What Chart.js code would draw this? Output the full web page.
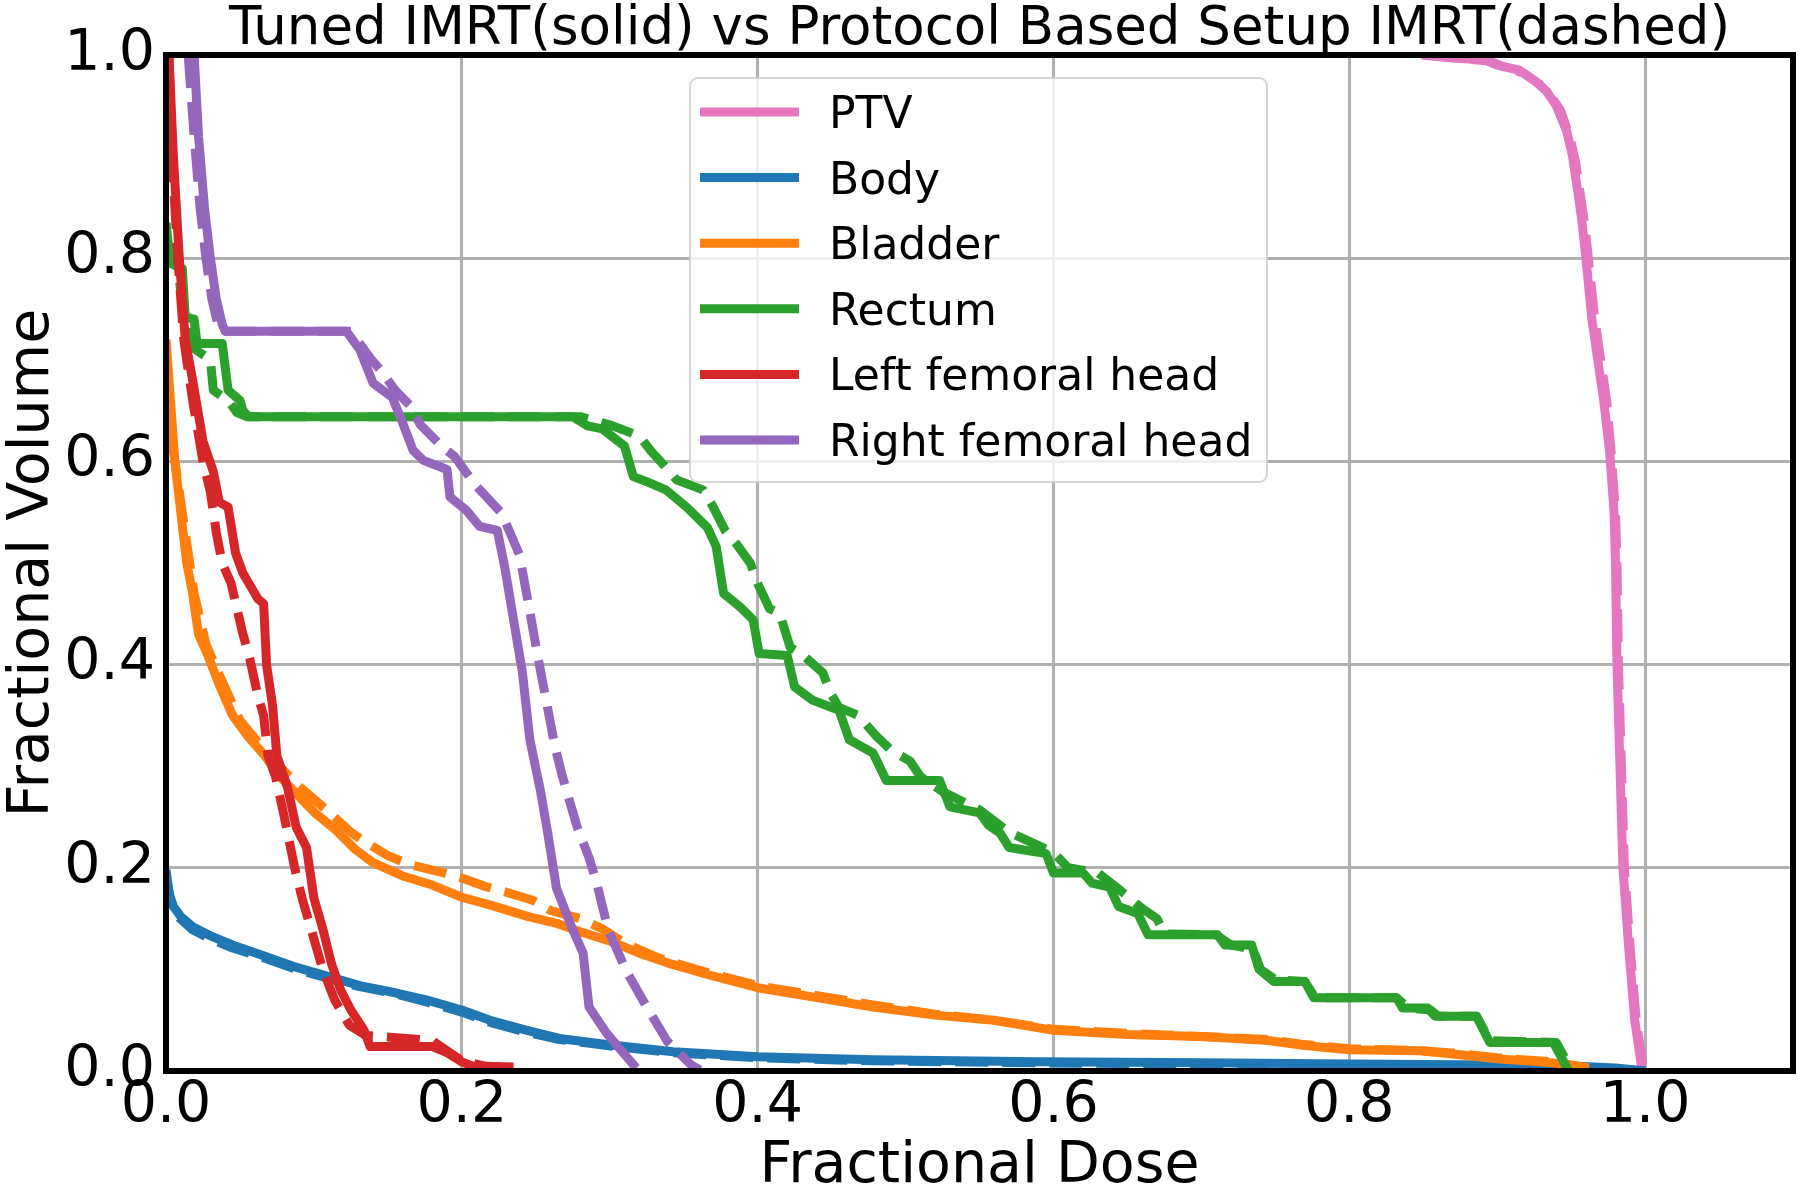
<!DOCTYPE html>
<html>
<head>
<meta charset="utf-8">
<script src="https://cdn.jsdelivr.net/npm/chart.js@4.4.0/dist/chart.umd.min.js"></script>
<style>
  html, body { margin: 0; padding: 0; background: #fff; }
  #wrap { width: 1800px; height: 1193px; }
</style>
</head>
<body>
<div id="wrap"><canvas id="dvhChart" width="1800" height="1193"></canvas></div>
<script>
// structure names and colours (legend order)
var structures = ['PTV', 'Body', 'Bladder', 'Rectum', 'Left femoral head', 'Right femoral head'];
var colors = ['#e377c2', '#1f77b4', '#ff7f0e', '#2ca02c', '#d62728', '#9467bd'];

// axis ticks
var xTicks = [0.0, 0.2, 0.4, 0.6, 0.8, 1.0];
var yTicks = [0.0, 0.2, 0.4, 0.6, 0.8, 1.0];

// [fractional dose, fractional volume]
// Tuned IMRT (solid)
var ptvSolid = [[0.849, 1.0], [0.87, 0.997], [0.892, 0.995], [0.9, 0.99], [0.915, 0.985], [0.925, 0.975], [0.933, 0.965], [0.94, 0.95], [0.947, 0.925], [0.951, 0.9], [0.954, 0.87], [0.957, 0.84], [0.96, 0.8], [0.964, 0.74], [0.968, 0.7], [0.972, 0.66], [0.976, 0.61], [0.979, 0.55], [0.98, 0.5], [0.981, 0.4], [0.983, 0.3], [0.985, 0.2], [0.989, 0.12], [0.993, 0.05], [0.998, 0.0]];
var bodySolid = [[0, 0.198], [0.002, 0.175], [0.005, 0.162], [0.01, 0.152], [0.018, 0.142], [0.03, 0.133], [0.045, 0.124], [0.065, 0.114], [0.086, 0.103], [0.11, 0.093], [0.131, 0.084], [0.155, 0.077], [0.176, 0.07], [0.2, 0.06], [0.221, 0.049], [0.244, 0.04], [0.266, 0.032], [0.298, 0.026], [0.343, 0.019], [0.4, 0.014], [0.478, 0.011], [0.59, 0.009], [0.7, 0.008], [0.8, 0.007], [0.9, 0.006], [0.95, 0.005], [0.98, 0.003], [1.0, 0.0]];
var bladderSolid = [[0.0, 0.72], [0.003, 0.66], [0.006, 0.6], [0.01, 0.55], [0.014, 0.5], [0.018, 0.47], [0.022, 0.43], [0.028, 0.41], [0.036, 0.38], [0.045, 0.35], [0.055, 0.33], [0.067, 0.31], [0.077, 0.29], [0.09, 0.27], [0.1, 0.255], [0.115, 0.237], [0.128, 0.218], [0.14, 0.205], [0.16, 0.192], [0.18, 0.183], [0.2, 0.171], [0.22, 0.163], [0.245, 0.152], [0.265, 0.145], [0.28, 0.137], [0.3, 0.128], [0.32, 0.116], [0.34, 0.106], [0.366, 0.095], [0.4, 0.082], [0.437, 0.073], [0.478, 0.063], [0.52, 0.055], [0.56, 0.05], [0.6, 0.04], [0.65, 0.036], [0.7, 0.034], [0.745, 0.03], [0.77, 0.025], [0.8, 0.021], [0.848, 0.02], [0.875, 0.016], [0.9, 0.012], [0.938, 0.008], [0.957, 0.003]];
var rectumSolid = [[0, 0.835], [0.003, 0.795], [0.011, 0.79], [0.013, 0.742], [0.019, 0.74], [0.021, 0.716], [0.038, 0.716], [0.042, 0.67], [0.05, 0.66], [0.052, 0.65], [0.056, 0.644], [0.275, 0.644], [0.285, 0.635], [0.295, 0.632], [0.31, 0.615], [0.316, 0.585], [0.325, 0.58], [0.338, 0.572], [0.352, 0.555], [0.366, 0.535], [0.372, 0.516], [0.377, 0.47], [0.388, 0.457], [0.397, 0.444], [0.401, 0.411], [0.42, 0.409], [0.425, 0.378], [0.437, 0.365], [0.455, 0.355], [0.462, 0.326], [0.478, 0.313], [0.487, 0.286], [0.523, 0.286], [0.53, 0.26], [0.55, 0.254], [0.556, 0.242], [0.564, 0.234], [0.57, 0.22], [0.595, 0.214], [0.6, 0.195], [0.62, 0.195], [0.626, 0.185], [0.638, 0.181], [0.644, 0.162], [0.657, 0.155], [0.664, 0.134], [0.711, 0.134], [0.716, 0.124], [0.734, 0.124], [0.739, 0.1], [0.749, 0.088], [0.77, 0.088], [0.776, 0.072], [0.832, 0.072], [0.836, 0.062], [0.853, 0.062], [0.858, 0.054], [0.886, 0.054], [0.895, 0.028], [0.938, 0.028], [0.948, 0.001]];
var leftFemSolid = [[0.002, 1.0], [0.005, 0.9], [0.009, 0.8], [0.013, 0.72], [0.018, 0.68], [0.025, 0.62], [0.032, 0.59], [0.036, 0.56], [0.042, 0.555], [0.047, 0.51], [0.052, 0.49], [0.056, 0.48], [0.062, 0.465], [0.066, 0.46], [0.068, 0.4], [0.072, 0.36], [0.075, 0.31], [0.082, 0.28], [0.088, 0.24], [0.095, 0.22], [0.1, 0.17], [0.106, 0.14], [0.112, 0.105], [0.118, 0.08], [0.125, 0.06], [0.134, 0.04], [0.138, 0.024], [0.18, 0.024], [0.19, 0.018], [0.2, 0.009], [0.207, 0.005], [0.235, 0.004]];
var rightFemSolid = [[0.019, 1.0], [0.022, 0.92], [0.026, 0.85], [0.03, 0.8], [0.034, 0.76], [0.038, 0.735], [0.04, 0.728], [0.122, 0.728], [0.131, 0.71], [0.14, 0.677], [0.153, 0.663], [0.16, 0.638], [0.167, 0.611], [0.174, 0.601], [0.19, 0.592], [0.192, 0.565], [0.203, 0.552], [0.212, 0.536], [0.224, 0.532], [0.229, 0.496], [0.235, 0.444], [0.241, 0.392], [0.246, 0.326], [0.253, 0.277], [0.258, 0.235], [0.264, 0.18], [0.275, 0.139], [0.282, 0.116], [0.286, 0.063], [0.298, 0.037], [0.309, 0.018], [0.318, 0.003]];

// Protocol Based Setup IMRT (dashed)
var ptvDashed = [[0.851, 1.0], [0.872, 0.997], [0.895, 0.994], [0.905, 0.988], [0.918, 0.982], [0.928, 0.972], [0.936, 0.96], [0.943, 0.945], [0.949, 0.92], [0.953, 0.895], [0.956, 0.865], [0.959, 0.835], [0.962, 0.795], [0.966, 0.74], [0.97, 0.7], [0.974, 0.66], [0.977, 0.61], [0.98, 0.55], [0.981, 0.5], [0.982, 0.4], [0.984, 0.3], [0.986, 0.2], [0.99, 0.12], [0.994, 0.05], [0.999, 0.0]];
var bodyDashed = [[0, 0.195], [0.003, 0.168], [0.008, 0.152], [0.018, 0.139], [0.03, 0.13], [0.045, 0.121], [0.065, 0.112], [0.086, 0.101], [0.11, 0.091], [0.131, 0.083], [0.155, 0.076], [0.176, 0.068], [0.2, 0.058], [0.221, 0.047], [0.244, 0.038], [0.266, 0.031], [0.298, 0.025], [0.343, 0.018], [0.4, 0.013], [0.478, 0.01], [0.59, 0.008], [0.7, 0.007], [0.8, 0.006], [0.9, 0.005], [0.95, 0.004], [0.98, 0.002], [1.0, 0.0]];
var bladderDashed = [[0.0, 0.71], [0.004, 0.62], [0.01, 0.56], [0.014, 0.52], [0.019, 0.47], [0.027, 0.42], [0.036, 0.39], [0.05, 0.345], [0.07, 0.31], [0.09, 0.28], [0.11, 0.255], [0.125, 0.235], [0.135, 0.225], [0.15, 0.212], [0.165, 0.203], [0.185, 0.196], [0.2, 0.19], [0.215, 0.182], [0.23, 0.176], [0.248, 0.168], [0.26, 0.158], [0.28, 0.15], [0.295, 0.14], [0.31, 0.126], [0.33, 0.113], [0.34, 0.108], [0.366, 0.097], [0.4, 0.084], [0.437, 0.075], [0.478, 0.065], [0.52, 0.056], [0.56, 0.05], [0.6, 0.041], [0.65, 0.037], [0.7, 0.034], [0.745, 0.031], [0.77, 0.026], [0.8, 0.022], [0.848, 0.02], [0.875, 0.017], [0.9, 0.013], [0.938, 0.009], [0.962, 0.003]];
var rectumDashed = [[0, 0.82], [0.004, 0.8], [0.008, 0.79], [0.012, 0.745], [0.016, 0.73], [0.02, 0.71], [0.03, 0.7], [0.032, 0.67], [0.042, 0.66], [0.048, 0.648], [0.055, 0.644], [0.28, 0.644], [0.3, 0.636], [0.32, 0.625], [0.328, 0.61], [0.338, 0.594], [0.345, 0.582], [0.363, 0.572], [0.37, 0.555], [0.378, 0.532], [0.385, 0.52], [0.395, 0.5], [0.4, 0.48], [0.408, 0.455], [0.415, 0.45], [0.422, 0.417], [0.43, 0.41], [0.444, 0.392], [0.45, 0.37], [0.455, 0.358], [0.468, 0.35], [0.48, 0.33], [0.49, 0.316], [0.503, 0.305], [0.51, 0.29], [0.525, 0.275], [0.55, 0.257], [0.57, 0.235], [0.6, 0.215], [0.61, 0.2], [0.63, 0.195], [0.645, 0.178], [0.66, 0.16], [0.67, 0.15], [0.675, 0.135], [0.71, 0.134], [0.72, 0.124], [0.735, 0.12], [0.74, 0.1], [0.75, 0.09], [0.77, 0.088], [0.777, 0.072], [0.832, 0.072], [0.84, 0.062], [0.855, 0.06], [0.86, 0.054], [0.886, 0.054], [0.895, 0.03], [0.94, 0.028], [0.95, 0.001]];
var leftFemDashed = [[0.002, 1.0], [0.004, 0.9], [0.008, 0.8], [0.012, 0.72], [0.018, 0.66], [0.025, 0.6], [0.03, 0.57], [0.034, 0.53], [0.038, 0.5], [0.044, 0.48], [0.048, 0.455], [0.052, 0.43], [0.056, 0.41], [0.062, 0.37], [0.066, 0.35], [0.069, 0.31], [0.074, 0.29], [0.08, 0.25], [0.087, 0.2], [0.092, 0.17], [0.098, 0.14], [0.106, 0.1], [0.114, 0.07], [0.124, 0.045], [0.135, 0.035], [0.18, 0.03], [0.19, 0.02], [0.2, 0.01], [0.215, 0.005], [0.23, 0.003]];
var rightFemDashed = [[0.015, 1.0], [0.019, 0.92], [0.023, 0.85], [0.027, 0.8], [0.031, 0.76], [0.035, 0.735], [0.037, 0.728], [0.125, 0.728], [0.139, 0.7], [0.145, 0.69], [0.155, 0.67], [0.165, 0.655], [0.172, 0.636], [0.187, 0.614], [0.195, 0.605], [0.209, 0.577], [0.227, 0.549], [0.239, 0.508], [0.245, 0.46], [0.251, 0.411], [0.257, 0.365], [0.263, 0.319], [0.268, 0.29], [0.278, 0.24], [0.286, 0.21], [0.291, 0.186], [0.299, 0.139], [0.311, 0.099], [0.325, 0.063], [0.339, 0.029], [0.355, 0.006], [0.361, 0.001]];

var solidSets = [ptvSolid, bodySolid, bladderSolid, rectumSolid, leftFemSolid, rightFemSolid];
var dashedSets = [ptvDashed, bodyDashed, bladderDashed, rectumDashed, leftFemDashed, rightFemDashed];

var FONT = "'DejaVu Sans', sans-serif";
var LW = 9;

function toPoints(arr) {
  return arr.map(function(p) { return {x: p[0], y: p[1]}; });
}

var datasets = [];
structures.forEach(function(name, i) {
  datasets.push({ label: name, data: toPoints(solidSets[i]), borderColor: colors[i], borderWidth: LW });
  datasets.push({ label: name + ' (protocol)', data: toPoints(dashedSets[i]), borderColor: colors[i], borderWidth: LW, borderDash: [33, 14] });
});
// later series on top, like matplotlib
datasets.forEach(function(d, i) {
  d.order = datasets.length - i;
  d.showLine = true;
  d.pointRadius = 0;
  d.fill = false;
  d.tension = 0;
  d.borderJoinStyle = 'round';
  d.clip = 0;
});

// black box round the axes
var framePlugin = {
  id: 'frame',
  afterDatasetsDraw: function(chart) {
    var a = chart.chartArea, ctx = chart.ctx;
    ctx.save();
    ctx.strokeStyle = '#000';
    ctx.lineWidth = 6;
    ctx.strokeRect(a.left, a.top, a.right - a.left, a.bottom - a.top);
    ctx.restore();
  }
};

// legend box inside the axes (solid styles only)
var legendBoxPlugin = {
  id: 'legendBox',
  afterDraw: function(chart) {
    var a = chart.chartArea, ctx = chart.ctx;
    var bx = a.left + 524, by = a.top + 23, bw = 577, bh = 404, r = 8;
    ctx.save();
    ctx.beginPath();
    ctx.moveTo(bx + r, by);
    ctx.arcTo(bx + bw, by, bx + bw, by + bh, r);
    ctx.arcTo(bx + bw, by + bh, bx, by + bh, r);
    ctx.arcTo(bx, by + bh, bx, by, r);
    ctx.arcTo(bx, by, bx + bw, by, r);
    ctx.closePath();
    ctx.fillStyle = 'rgba(255,255,255,0.8)';
    ctx.fill();
    ctx.lineWidth = 2;
    ctx.strokeStyle = 'rgba(204,204,204,0.8)';
    ctx.stroke();

    ctx.font = '44px ' + FONT;
    ctx.textBaseline = 'alphabetic';
    ctx.textAlign = 'left';
    structures.forEach(function(name, i) {
      var y = by + 34 + i * 65.6;
      ctx.beginPath();
      ctx.moveTo(bx + 10, y);
      ctx.lineTo(bx + 109, y);
      ctx.strokeStyle = colors[i];
      ctx.lineWidth = LW;
      ctx.stroke();
      ctx.fillStyle = '#000';
      ctx.fillText(name, bx + 139, y + 16);
    });
    ctx.restore();
  }
};

var ctx = document.getElementById('dvhChart').getContext('2d');
var dvhChart = new Chart(ctx, {
  type: 'scatter',
  data: { datasets: datasets },
  options: {
    responsive: false,
    animation: false,
    events: [],
    layout: { padding: { left: 0, right: 7, top: 0, bottom: 0 } },
    plugins: {
      legend: { display: false },
      tooltip: { enabled: false },
      title: {
        display: true,
        fullSize: false,
        text: 'Tuned IMRT(solid) vs Protocol Based Setup IMRT(dashed)',
        color: '#000',
        font: { family: FONT, size: 53, weight: 'normal', lineHeight: 1 },
        padding: { top: 4, bottom: -2 }
      }
    },
    scales: {
      x: {
        type: 'linear',
        min: 0,
        max: 1.1,
        afterBuildTicks: function(scale) {
          scale.ticks = xTicks.map(function(v) { return {value: v}; });
        },
        ticks: {
          includeBounds: false,
          color: '#000',
          padding: 2,
          maxRotation: 0,
          font: { family: FONT, size: 57 },
          callback: function(v) { return Number(v).toFixed(1); }
        },
        grid: { color: '#b0b0b0', lineWidth: 3, drawTicks: false },
        border: { display: false },
        title: {
          display: true,
          text: 'Fractional Dose',
          color: '#000',
          font: { family: FONT, size: 57, lineHeight: 1 },
          padding: { top: 0, bottom: -3 }
        },
        afterFit: function(scale) { scale.height = 122; }
      },
      y: {
        type: 'linear',
        min: 0,
        max: 1.0,
        afterBuildTicks: function(scale) {
          scale.ticks = yTicks.map(function(v) { return {value: v}; });
        },
        ticks: {
          includeBounds: false,
          color: '#000',
          padding: 11,
          font: { family: FONT, size: 57 },
          callback: function(v) { return Number(v).toFixed(1); }
        },
        grid: { color: '#b0b0b0', lineWidth: 3, drawTicks: false },
        border: { display: false },
        title: {
          display: true,
          text: 'Fractional Volume',
          color: '#000',
          font: { family: FONT, size: 57, lineHeight: 1 },
          padding: { top: 5, bottom: 0 }
        },
        afterFit: function(scale) { scale.width = 166; }
      }
    }
  },
  plugins: [framePlugin, legendBoxPlugin]
});
</script>
</body>
</html>
